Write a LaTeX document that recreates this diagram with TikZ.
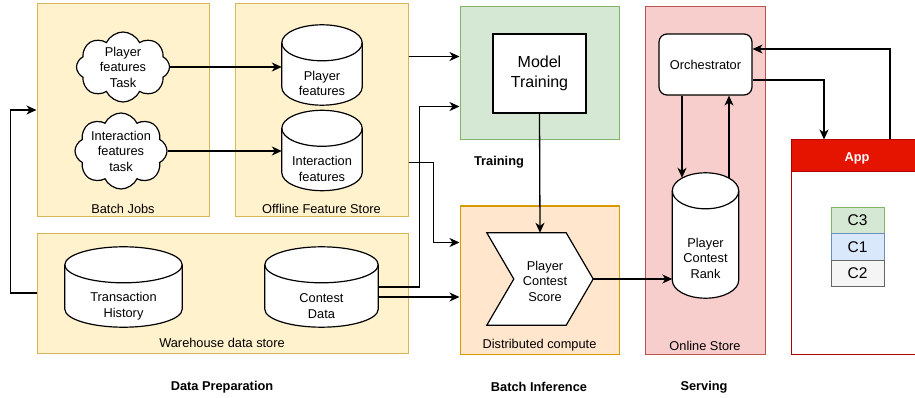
\documentclass[tikz,border=0pt]{standalone}
\usepackage{fontspec}
\setmainfont{Liberation Sans}
\usetikzlibrary{shapes.symbols,arrows.meta,calc}
\definecolor{yfill}{HTML}{FFF2CC}\definecolor{ydraw}{HTML}{D6B656}
\definecolor{gfill}{HTML}{D5E8D4}\definecolor{gdraw}{HTML}{82B366}
\definecolor{ofill}{HTML}{FFE6CC}\definecolor{odraw}{HTML}{D79B00}
\definecolor{rfill}{HTML}{F8CECC}\definecolor{rdraw}{HTML}{B85450}
\definecolor{appred}{HTML}{E51400}\definecolor{appdraw}{HTML}{B20000}
\definecolor{bfill}{HTML}{DAE8FC}\definecolor{bdraw}{HTML}{6C8EBF}
\definecolor{wfill}{HTML}{F5F5F5}\definecolor{wdraw}{HTML}{666666}
\newcommand\cyldraw[2]{%
 \path[draw=black,fill=white,line width=1.2pt] let \p1=(#1.north west), \p2=(#1.south east), \n1={(\x2-\x1)/2} in
 (\x1,{\y1-#2pt}) -- (\x1,{\y2+#2pt}) arc[start angle=180,end angle=360,x radius={\n1*1pt},y radius={#2*1pt}]
 -- (\x2,{\y1-#2pt}) arc[start angle=0,end angle=180,x radius={\n1*1pt},y radius={#2*1pt}] -- cycle;
 \path[draw=black,line width=1.2pt] let \p1=(#1.north west), \p2=(#1.south east), \n1={(\x2-\x1)/2} in
 (\x1,{\y1-#2pt}) arc[start angle=180,end angle=360,x radius={\n1*1pt},y radius={#2*1pt}];
}
\tikzset{
 txt/.style={font=\fontsize{12.8}{15.5}\selectfont,align=center,inner sep=0pt},
 btxt/.style={font=\fontsize{12.8}{15.5}\selectfont\bfseries,align=center,inner sep=0pt},
 ybox/.style={draw=ydraw,fill=yfill,line width=1pt,minimum width=#1},
 frame/.style={rectangle,inner sep=0pt},
 cylbox/.style={frame,draw=none},
 cloudshape/.style={cloud,cloud puffs=8,cloud puff arc=130,cloud ignores aspect,draw=black,fill=white,line width=1.2pt,inner sep=0pt,align=center,font=\fontsize{12.8}{15.5}\selectfont},
 edge/.style={line width=1.3pt,-{Stealth[length=10pt,width=9pt,inset=3pt]}},
}
\begin{document}
\begin{tikzpicture}[x=1pt,y=1pt]
\useasboundingbox (0,0) rectangle (915,-398);
\clip (0,0) rectangle (915,-398);
\fill[white] (0,0) rectangle (915,-398);
% containers
\node[frame,ybox=172,minimum height=212] (bj) at (123,-110) {};
\node[frame,ybox=173,minimum height=212] (ofs) at (321.5,-110) {};
\node[frame,ybox=371,minimum height=120] (wh) at (222.5,-293) {};
\node[frame,draw=gdraw,fill=gfill,line width=1pt,minimum width=159,minimum height=133] (tr) at (539.5,-73.5) {};
\node[frame,draw=odraw,fill=ofill,line width=1pt,minimum width=159,minimum height=148] (dc) at (539.5,-280) {};
\node[frame,draw=rdraw,fill=rfill,line width=1pt,minimum width=120,minimum height=347] (os) at (705,-180.5) {};
% app
\node[frame,draw=appdraw,fill=white,line width=1pt,minimum width=132,minimum height=214] (appb) at (857,-247) {};
\node[frame,draw=appdraw,fill=appred,line width=1pt,minimum width=132,minimum height=32] (apph) at (857,-156) {};
\node[btxt,text=white] (appt) at (857,-158) {App};
\node[frame,draw=gdraw,fill=gfill,line width=1pt,minimum width=53,minimum height=26.5,font=\fontsize{15.5}{17}\selectfont] (cc3) at (857.5,-220.5) {C3};
\node[frame,draw=bdraw,fill=bfill,line width=1pt,minimum width=53,minimum height=26.5,font=\fontsize{15.5}{17}\selectfont] (cc1) at (857.5,-247) {C1};
\node[frame,draw=wdraw,fill=wfill,line width=1pt,minimum width=53,minimum height=26.5,font=\fontsize{15.5}{17}\selectfont] (cc2) at (857.5,-273.5) {C2};
% container labels
\node[txt] (lbj) at (123,-209) {Batch Jobs};
\node[txt] (lofs) at (321.5,-209) {Offline Feature Store};
\node[txt] (lwh) at (222,-343) {Warehouse data store};
\node[txt] (ldc) at (539.5,-345) {Distributed compute};
\node[txt] (los) at (705,-346) {Online Store};
\node[btxt] (ltr) at (499,-162) {Training};
\node[btxt] (ldp) at (222,-387) {Data Preparation};
\node[btxt] (lbi) at (539,-387) {Batch Inference};
\node[btxt] (lsv) at (704,-387) {Serving};
% clouds
\node[cloudshape,minimum width=93,minimum height=70] (c1) at (123,-67) {Player\\features\\Task};
\node[cloudshape,minimum width=84,minimum height=76] (c2) at (121,-151) {Interaction\\features\\task};
% cylinders
\node[cylbox,minimum width=80,minimum height=80] (pf) at (322,-65) {};
\cyldraw{pf}{18}
\node[txt] (pft) at (322,-83.5) {Player\\features};
\node[cylbox,minimum width=80,minimum height=80] (if) at (322,-150.5) {};
\cyldraw{if}{18}
\node[txt] (ift) at (322,-169) {Interaction\\features};
\node[cylbox,minimum width=117,minimum height=80] (th) at (123.5,-287) {};
\cyldraw{th}{18}
\node[txt] (tht) at (123.5,-306) {Transaction\\History};
\node[cylbox,minimum width=113,minimum height=80] (cd) at (321.5,-287) {};
\cyldraw{cd}{18}
\node[txt] (cdt) at (321.5,-306) {Contest\\Data};
\node[cylbox,minimum width=66,minimum height=125] (pcr) at (705.5,-235.5) {};
\cyldraw{pcr}{18}
\node[txt] (pcrt) at (705.5,-258) {Player\\Contest\\Rank};
% model training
\node[frame,draw=black,fill=white,line width=1.2pt,minimum width=93,minimum height=79,align=center,font=\fontsize{16}{20}\selectfont] (mt) at (539.5,-73.5) {Model\\Training};
% orchestrator
\node[frame,draw=black,fill=white,line width=1.2pt,rounded corners=8pt,minimum width=93,minimum height=61,font=\fontsize{12.8}{15.5}\selectfont] (orch) at (705.5,-64.5) {Orchestrator};
% chevron
\node[cylbox,minimum width=106,minimum height=92] (pcs) at (540,-279) {};
\draw[line width=1.2pt,fill=white] (pcs.north west) -- ([xshift=-27pt]pcs.north east) -- (pcs.east) -- ([xshift=-27pt]pcs.south east) -- (pcs.south west) -- ([xshift=27pt]pcs.west) -- cycle;
\node[txt] (pcst) at (545,-281) {Player\\Contest\\Score};
% connectors
\draw[edge] (c1.east) -- (c1.east -| pf.west);
\draw[edge] (c2.east) -- (c2.east -| if.west);
\coordinate (a1) at ([yshift=-53pt]ofs.north east);
\draw[edge] (a1) -- (a1 -| tr.west);
\coordinate (a2) at ([yshift=-100pt]tr.north west);
\draw[edge] (cd.east) -- ++(41,0) |- (a2);
\coordinate (a3) at ([yshift=-159pt]ofs.north east);
\coordinate (a4) at ([yshift=-37pt]dc.north west);
\draw[edge] (a3) -- ++(25,0) |- (a4);
\coordinate (a5) at ([yshift=-10pt]cd.east);
\draw[edge] (a5) -- (a5 -| dc.west);
\draw[edge] (wh.west) -- ++(-26,0) |- (bj.west);
\draw[edge] (mt.south) -- (pcs.north);
\draw[edge] (pcs.east) -- (pcs.east -| pcr.west);
\coordinate (o1) at ([xshift=-23.5pt]orch.south);
\coordinate (p1) at ([xshift=-23.5pt,yshift=-5pt]pcr.north);
\draw[edge] (o1) -- (p1);
\coordinate (o2) at ([xshift=23.5pt]orch.south);
\coordinate (p2) at ([xshift=23.5pt,yshift=-5pt]pcr.north);
\draw[edge] (p2) -- (o2);
\coordinate (o3) at ([yshift=-15.5pt]orch.east);
\coordinate (h1) at ([xshift=-33pt]apph.north);
\draw[edge] (o3) -| (h1);
\coordinate (o4) at ([yshift=15.5pt]orch.east);
\coordinate (h2) at ([xshift=33pt]apph.north);
\draw[edge] (h2) |- (o4);
\end{tikzpicture}
\end{document}
